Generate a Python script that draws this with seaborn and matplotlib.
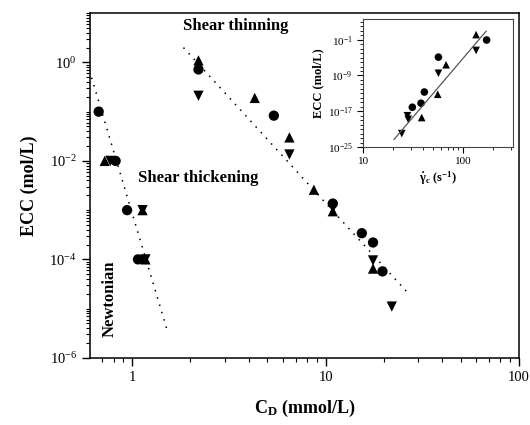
import numpy as np
import pandas as pd
import matplotlib
matplotlib.use('Agg')
import matplotlib.pyplot as plt
from matplotlib.ticker import LogLocator, LogFormatterMathtext, NullFormatter
import seaborn as sns

# dados do grafico principal: C_D (mmol/L) x ECC (mol/L)
circle_x = [0.67, 0.82, 0.94, 1.07, 2.2, 5.4, 10.9, 15.4, 17.6, 19.7]
circle_y = [0.1, 0.01, 1e-3, 1e-4, 0.72, 0.083, 1.36e-3, 3.4e-4, 2.2e-4, 5.7e-5]
up_x = [0.72, 1.13, 1.17, 2.2, 4.3, 6.5, 8.7, 10.9, 17.6]
up_y = [0.01, 1e-3, 1e-4, 1.1, 0.19, 0.03, 2.6e-3, 9.5e-4, 6.5e-5]
down_x = [0.77, 1.13, 1.17, 2.2, 6.5, 10.9, 17.6, 22.0]
down_y = [0.01, 1e-3, 1e-4, 0.21, 0.0135, 1.1e-3, 9.5e-5, 1.1e-5]

# linhas pontilhadas (extremos)
newt_x = [0.6, 1.52]
newt_y = [0.69, 3.5e-6]
thin_x = [1.84, 26.3]
thin_y = [2.0, 2.2e-5]

# dados do inset: taxa critica x ECC (expoentes de 10)
in_circle_x = [31.1, 38.0, 41.0, 56.7, 172]
in_circle_exp = [-16.1, -15.2, -12.7, -4.9, -1.07]
in_up_x = [38.6, 55.8, 67.6, 135]
in_up_exp = [-18.4, -13.2, -6.6, 0.14]
in_down_x = [24.4, 27.8, 28.3, 56.7, 135]
in_down_exp = [-22, -18, -18.8, -8.5, -3.4]
fit_x = [20.4, 170]
fit_exp = [-23.3, 0.9]

main_yticks = [1e-6, 1e-4, 1e-2, 1e0]
main_xticks = [1, 10, 100]
inset_yticks = [1e-25, 1e-17, 1e-9, 1e-1]
inset_xticks = [10, 100]

plt.rcParams['font.family'] = ['Liberation Serif', 'DejaVu Serif']
plt.rcParams['mathtext.fontset'] = 'custom'
plt.rcParams['mathtext.rm'] = 'Liberation Serif'
plt.rcParams['mathtext.it'] = 'Liberation Serif:italic'
plt.rcParams['mathtext.bf'] = 'Liberation Serif:bold'
plt.rcParams['axes.unicode_minus'] = False


def make_df(cx, cy, ux, uy, dx, dy):
    return pd.DataFrame({
        'x': cx + ux + dx,
        'y': list(cy) + list(uy) + list(dy),
        'shape': ['o'] * len(cx) + ['^'] * len(ux) + ['v'] * len(dx),
    })


def pw(e):
    return [10.0 ** v for v in e]


markers = {'o': 'o', '^': '^', 'v': 'v'}

fig = plt.figure(figsize=(5.3, 4.25), dpi=100)
ax = fig.add_axes([0.170, 0.158, 0.809, 0.811])

df = make_df(circle_x, circle_y, up_x, up_y, down_x, down_y)
sns.scatterplot(data=df, x='x', y='y', style='shape', markers=markers,
                color='black', s=55, edgecolor='none', legend=False, ax=ax)
for lx, ly in [(newt_x, newt_y), (thin_x, thin_y)]:
    sns.lineplot(x=lx, y=ly, color='black', lw=1.1, linestyle=(0, (1, 4)), ax=ax)

ax.set_xscale('log')
ax.set_yscale('log')
ax.set_xlim(0.605, 100)
ax.set_ylim(1e-6, 1e1)
ax.set_xticks(main_xticks)
ax.set_yticks(main_yticks)
ax.xaxis.set_minor_locator(LogLocator(base=10, subs=np.arange(2, 10), numticks=100))
ax.yaxis.set_major_formatter(LogFormatterMathtext(base=10))
ax.yaxis.set_minor_locator(LogLocator(base=10, subs=np.arange(1, 10), numticks=100))
ax.xaxis.set_minor_formatter(NullFormatter())
ax.yaxis.set_minor_formatter(NullFormatter())
ax.xaxis.set_major_formatter(plt.FuncFormatter(lambda v, p: f'{v:g}'))
ax.tick_params(which='major', length=6, width=1, labelsize=10.5)
ax.tick_params(which='minor', length=3, width=0.8)
for sp in ax.spines.values():
    sp.set_linewidth(1.1)

ax.set_xlabel(r'$\mathbf{C_D}$ (mmol/L)', fontsize=13, fontweight='bold', labelpad=10)
ax.set_ylabel('ECC (mol/L)', fontsize=13, fontweight='bold', labelpad=8)

ax.text(1.84, 5.6, 'Shear thinning', fontsize=12, fontweight='bold', va='center', ha='left')
ax.text(1.07, 4.5e-3, 'Shear thickening', fontsize=12, fontweight='bold', va='center', ha='left')
ax.text(0.76, 1.6e-5, 'Newtonian', fontsize=12, fontweight='bold', rotation=90,
        va='center', ha='center')

# inset
ax2 = fig.add_axes([0.685, 0.654, 0.283, 0.301])
dfi = make_df(in_circle_x, pw(in_circle_exp), in_up_x, pw(in_up_exp),
              in_down_x, pw(in_down_exp))
sns.lineplot(x=fit_x, y=pw(fit_exp), color='#555555', lw=0.9, ax=ax2)
sns.scatterplot(data=dfi, x='x', y='y', style='shape', markers=markers,
                color='black', s=30, edgecolor='none', legend=False, ax=ax2)
ax2.set_xscale('log')
ax2.set_yscale('log')
ax2.set_xlim(10, 316)
ax2.set_ylim(1e-25, 10 ** 3.6)
ax2.set_xticks(inset_xticks)
ax2.xaxis.set_minor_locator(LogLocator(base=10, subs=np.arange(2, 10), numticks=100))
ax2.xaxis.set_major_formatter(plt.FuncFormatter(lambda v, p: f'{v:g}'))
ax2.xaxis.set_minor_formatter(NullFormatter())
ax2.set_yticks(inset_yticks)
ax2.yaxis.set_major_formatter(LogFormatterMathtext(base=10))
ax2.yaxis.set_minor_locator(LogLocator(base=10, subs=(1.0,), numticks=100))
ax2.yaxis.set_minor_formatter(NullFormatter())
ax2.tick_params(which='major', length=4, width=0.8, labelsize=8)
ax2.tick_params(which='minor', length=2, width=0.6)
for sp in ax2.spines.values():
    sp.set_linewidth(0.8)
    sp.set_color('#444444')
ax2.set_xlabel(r'$\mathbf{\dot{\gamma}_c}$ (s$^{\mathbf{-1}}$)', fontsize=9, fontweight='bold', labelpad=2)
ax2.set_ylabel('ECC (mol/L)', fontsize=9, fontweight='bold', labelpad=2)

fig.savefig('out.png', dpi=100, facecolor='white')
